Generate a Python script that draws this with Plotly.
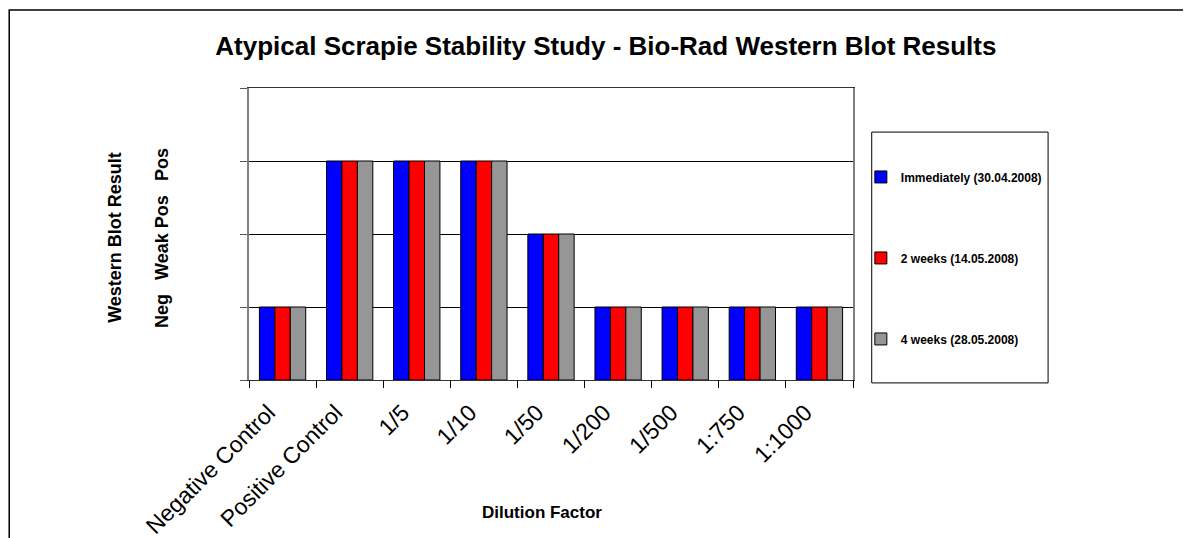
import plotly.graph_objects as go

categories = ["Negative Control", "Positive Control", "1/5", "1/10", "1/50",
              "1/200", "1/500", "1:750", "1:1000"]
immediately = [1, 3, 3, 3, 2, 1, 1, 1, 1]
weeks2 = [1, 3, 3, 3, 2, 1, 1, 1, 1]
weeks4 = [1, 3, 3, 3, 2, 1, 1, 1, 1]
series_names = ["Immediately (30.04.2008)", "2 weeks (14.05.2008)", "4 weeks (28.05.2008)"]
series_colors = ["#0000FF", "#FF0000", "#969696"]
result_levels = [1, 2, 3]
result_labels = ["Neg", "Weak Pos", "Pos"]

FONT = "Arial, Liberation Sans, sans-serif"

fig = go.Figure()
for name, vals, col in zip(series_names, [immediately, weeks2, weeks4], series_colors):
    fig.add_trace(go.Bar(
        x=categories, y=vals, name="<b>%s</b>" % name, legendgroup=name,
        marker=dict(color=col, line=dict(color="#000000", width=1)),
    ))

fig.update_layout(
    width=1191, height=538,
    margin=dict(l=241, r=346, t=80, b=166),
    paper_bgcolor="white", plot_bgcolor="white",
    barmode="group", bargap=0.31, bargroupgap=0,
    font=dict(family=FONT, color="#000000"),
    title=dict(text="<b>Atypical Scrapie Stability Study - Bio-Rad Western Blot Results</b>",
               x=0.502, xanchor="center", y=0.929, yanchor="middle",
               font=dict(size=26, family=FONT, color="#000000")),
    showlegend=True,
    legend=dict(x=1.013, xanchor="left", y=0.418, yanchor="middle",
                font=dict(size=12, family=FONT, color="#000000"),
                tracegroupgap=62, bgcolor="rgba(0,0,0,0)", borderwidth=0),
)

fig.update_xaxes(type="category", tickson="boundaries", ticks="outside", ticklen=7,
                 tickcolor="#000000", tickangle=-45, showgrid=False, automargin=False,
                 showline=True, linecolor="#333333", linewidth=1, mirror=True,
                 ticklabelshift=-14, ticklabelstandoff=9,
                 tickfont=dict(size=23, family=FONT, color="#000000"))
fig.update_yaxes(range=[0, 4], tickvals=[0, 1, 2, 3, 4], showticklabels=False,
                 ticks="outside", ticklen=7, tickcolor="#555555", automargin=False,
                 showgrid=True, gridcolor="#000000", gridwidth=1,
                 showline=True, linecolor="#808080", linewidth=2, mirror=True,
                 zeroline=False)

# legend frame
fig.add_shape(type="rect", xref="paper", yref="paper", x0=1.031, x1=1.323, y0=-0.010, y1=0.849,
              line=dict(color="#000000", width=1), fillcolor="rgba(0,0,0,0)")
# outer frame
fig.add_shape(type="rect", xref="paper", yref="paper", x0=-0.397, x1=1.7, y0=-0.8, y1=1.267,
              line=dict(color="#000000", width=1.5), fillcolor="rgba(0,0,0,0)", layer="below")

# axis titles
fig.add_annotation(text="<b>Western Blot Result</b>", xref="paper", yref="paper",
                   x=-0.222, y=0.49, textangle=-90, showarrow=False,
                   xanchor="center", yanchor="middle",
                   font=dict(size=18, family=FONT, color="#000000"))
for lv, lb in zip(result_levels, result_labels):
    fig.add_annotation(text="<b>%s</b>" % lb, xref="paper", yref="y",
                       x=-0.144, y=lv, yshift=-4, textangle=-90, showarrow=False,
                       xanchor="center", yanchor="middle",
                       font=dict(size=18, family=FONT, color="#000000"))
fig.add_annotation(text="<b>Dilution Factor</b>", xref="paper", yref="paper",
                   x=0.485, y=-0.455, showarrow=False, xanchor="center", yanchor="middle",
                   font=dict(size=17, family=FONT, color="#000000"))

fig.write_html("out.html")
